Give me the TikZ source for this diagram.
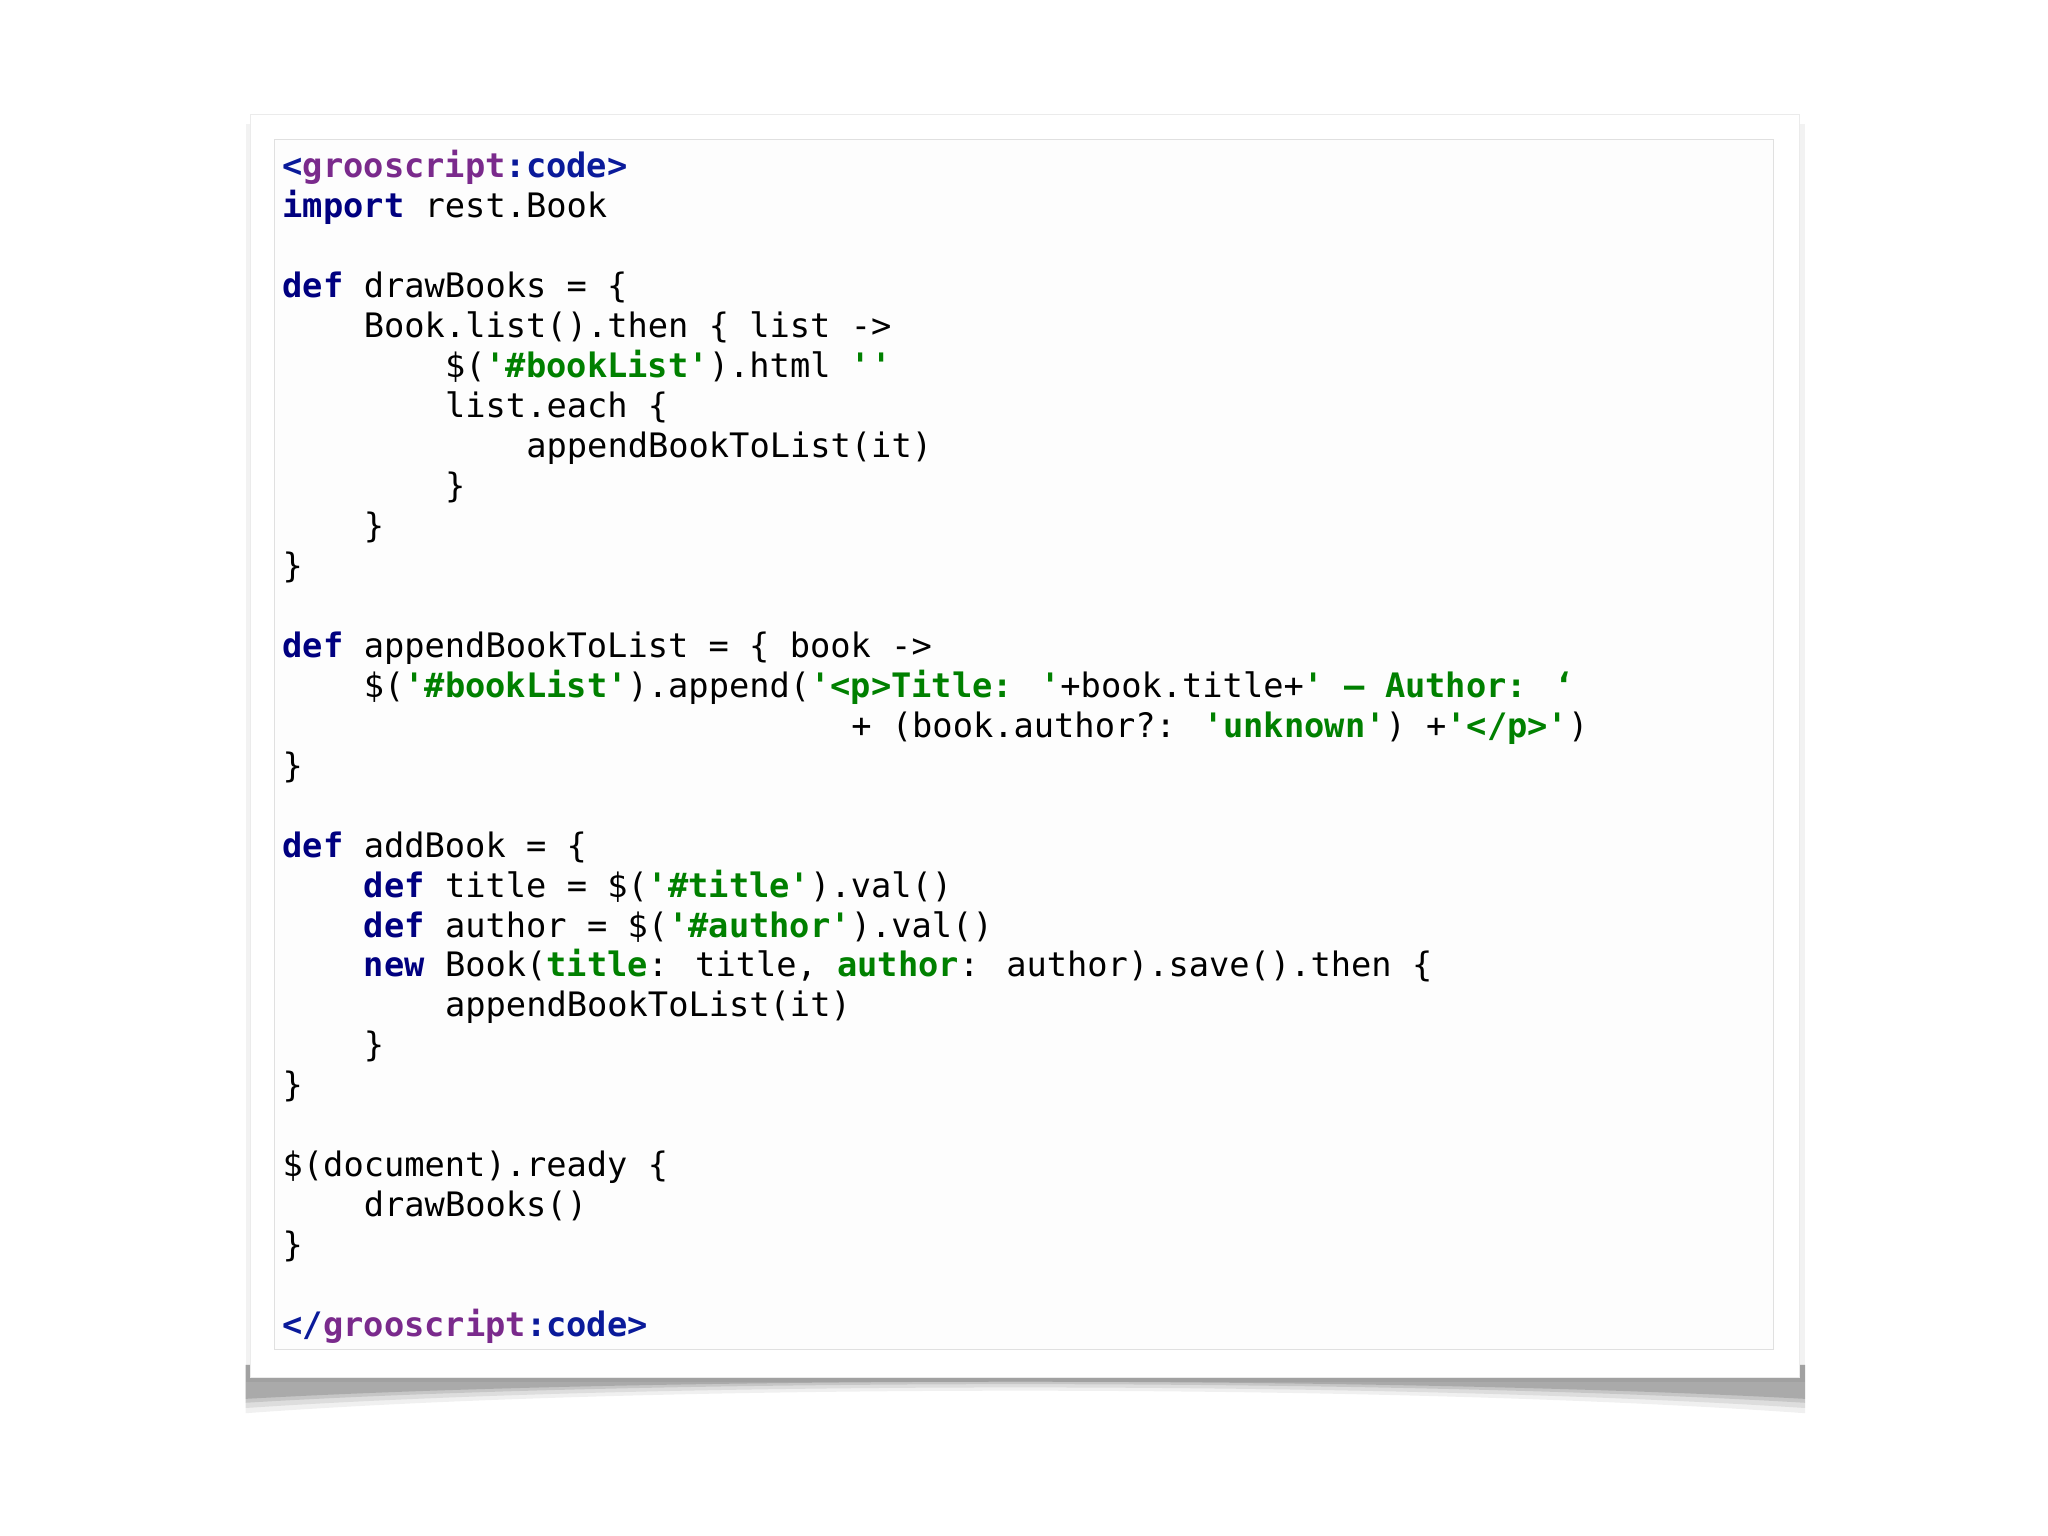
\documentclass[tikz,border=0pt]{standalone}
\usepackage{fontspec}
\newfontfamily\mono{DejaVu Sans Mono}
\definecolor{kwc}{HTML}{000080}
\definecolor{stc}{HTML}{008000}
\definecolor{tgc}{HTML}{7A2A8C}
\definecolor{tbc}{HTML}{0A1A9A}
\newcommand{\kw}[1]{\textcolor{kwc}{\bfseries #1}}
\newcommand{\st}[1]{\textcolor{stc}{\bfseries #1}}
\newcommand{\tg}[1]{\textcolor{tgc}{\bfseries #1}}
\newcommand{\tb}[1]{\textcolor{tbc}{\bfseries #1}}
\tikzset{code/.style={anchor=base west,inner sep=0pt,font=\mono\fontsize{12.9pt}{15pt}\selectfont,text=black}}
\newcommand{\cl}[4]{\node[code] (#1) at ({216+#3*15.55},{136+#2*30.6}) {#4};}
\begin{document}
\begin{tikzpicture}[x=0.5pt,y=-0.5pt]
\useasboundingbox (0,0) rectangle (1568,1176);
\fill[white] (0,0) rectangle (1568,1176);
% shadow
\foreach \a/\d in {0.06/14,0.08/10,0.10/6,0.14/3}{
  \fill[black,opacity=\a] (188,1045) -- (188,{1068+\d}) .. controls (500,{1052+\d*0.5}) and (1060,{1052+\d*0.5}) .. (1382,{1068+\d}) -- (1382,1045) -- cycle;
}
\fill[black,opacity=0.05] (188,95) rectangle (1382,1058);
\node[draw=black!8,fill=white,minimum width=593pt,minimum height=483.5pt,inner sep=0pt] (frame) at (785,571.5) {};
\node[draw=black!12,fill=black!0.6,minimum width=574pt,minimum height=463pt,inner sep=0pt] (inner) at (784,570) {};
\cl{l0}{0}{0}{\tb{<}\tg{grooscript}\tb{:code>}}
\cl{l1}{1}{0}{\kw{import} rest.Book}
\cl{l3}{3}{0}{\kw{def} drawBooks = \{}
\cl{l4}{4}{4}{Book.list().then \{ list ->}
\cl{l5}{5}{8}{\$(\st{'\#bookList'}).html \st{''}}
\cl{l6}{6}{8}{list.each \{}
\cl{l7}{7}{12}{appendBookToList(it)}
\cl{l8}{8}{8}{\}}
\cl{l9}{9}{4}{\}}
\cl{l10}{10}{0}{\}}
\cl{l12}{12}{0}{\kw{def} appendBookToList = \{ book ->}
\cl{l13}{13}{4}{\$(\st{'\#bookList'}).append(\st{'<p>Title: '}+book.title+\st{' – Author: ‘}}
\cl{l14}{14}{28}{+ (book.author?: \st{'unknown'}) +\st{'</p>'})}
\cl{l15}{15}{0}{\}}
\cl{l17}{17}{0}{\kw{def} addBook = \{}
\cl{l18}{18}{4}{\kw{def} title = \$(\st{'\#title'}).val()}
\cl{l19}{19}{4}{\kw{def} author = \$(\st{'\#author'}).val()}
\cl{l20}{20}{4}{\kw{new} Book(\st{title}: title, \st{author}: author).save().then \{}
\cl{l21}{21}{8}{appendBookToList(it)}
\cl{l22}{22}{4}{\}}
\cl{l23}{23}{0}{\}}
\cl{l25}{25}{0}{\$(document).ready \{}
\cl{l26}{26}{4}{drawBooks()}
\cl{l27}{27}{0}{\}}
\cl{l29}{29}{0}{\tb{</}\tg{grooscript}\tb{:code>}}
\end{tikzpicture}
\end{document}
